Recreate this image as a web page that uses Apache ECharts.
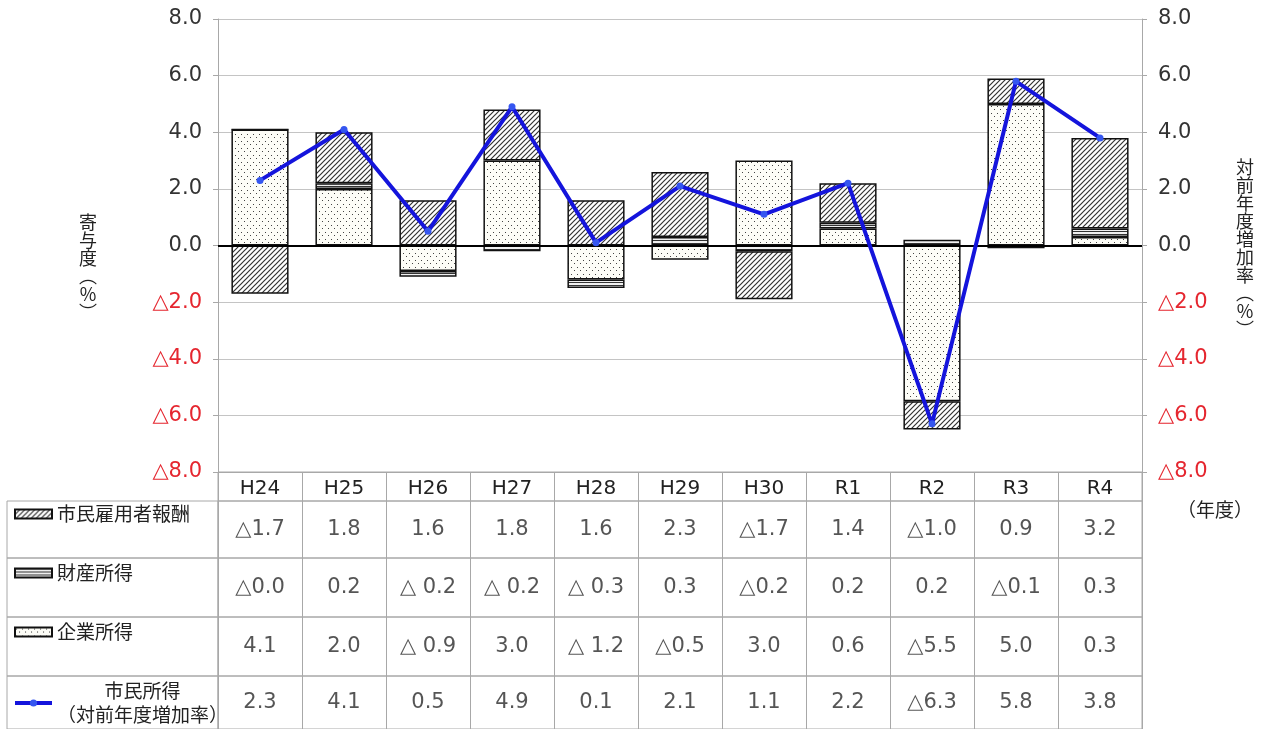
<!DOCTYPE html>
<html>
<head>
<meta charset="utf-8">
<script src="https://cdn.jsdelivr.net/npm/echarts@6/dist/echarts.min.js"></script>
<style>
html, body { margin: 0; padding: 0; background: #fff; }
#main { width: 1263px; height: 729px; }
</style>
</head>
<body>
<div id="main"></div>
<script>
// data, as printed in the table under the chart
var years = ['H24', 'H25', 'H26', 'H27', 'H28', 'H29', 'H30', 'R1', 'R2', 'R3', 'R4'];
var koyouText = ['△1.7', '1.8', '1.6', '1.8', '1.6', '2.3', '△1.7', '1.4', '△1.0', '0.9', '3.2'];
var zaisanText = ['△0.0', '0.2', '△ 0.2', '△ 0.2', '△ 0.3', '0.3', '△0.2', '0.2', '0.2', '△0.1', '0.3'];
var kigyouText = ['4.1', '2.0', '△ 0.9', '3.0', '△ 1.2', '△0.5', '3.0', '0.6', '△5.5', '5.0', '0.3'];
var shiminText = ['2.3', '4.1', '0.5', '4.9', '0.1', '2.1', '1.1', '2.2', '△6.3', '5.8', '3.8'];
var legendNames = ['市民雇用者報酬', '財産所得', '企業所得', '市民所得'];

function toNum(s) {
    return parseFloat(s.replace('△', '-').replace(/\s/g, ''));
}
var koyou = koyouText.map(toNum);
var zaisan = zaisanText.map(toNum);
var kigyou = kigyouText.map(toNum);
var shimin = shiminText.map(toNum);

var fontNum = 'DejaVu Sans, Noto Sans CJK JP, sans-serif';
var fontJp = 'Noto Sans CJK JP, sans-serif';
var gray = '#a8a8a8';
var lineBlue = '#1414dc';

// fill patterns for the bars
function pattern(w, h, draw) {
    var c = document.createElement('canvas');
    c.width = w; c.height = h;
    var ctx = c.getContext('2d');
    ctx.fillStyle = '#fff';
    ctx.fillRect(0, 0, w, h);
    draw(ctx);
    return { image: c, repeat: 'repeat' };
}
var hatch = pattern(5, 5, function (ctx) {
    ctx.strokeStyle = '#333';
    ctx.lineWidth = 1.2;
    ctx.beginPath();
    ctx.moveTo(-1, 6); ctx.lineTo(6, -1);
    ctx.moveTo(-1, 1); ctx.lineTo(1, -1);
    ctx.moveTo(4, 6); ctx.lineTo(6, 4);
    ctx.stroke();
});
var stripes = pattern(3, 3, function (ctx) {
    ctx.fillStyle = '#f0f0f0';
    ctx.fillRect(0, 0, 3, 3);
    ctx.fillStyle = '#333';
    ctx.fillRect(0, 0, 3, 1);
});
var dots = pattern(6, 7, function (ctx) {
    ctx.fillStyle = '#fdfdf7';
    ctx.fillRect(0, 0, 6, 7);
    ctx.fillStyle = '#444';
    ctx.fillRect(1, 1, 1, 1);
    ctx.fillRect(4, 4, 1, 1);
});

function tickLabel(v) {
    if (v < 0) return '{n|△' + (-v).toFixed(1) + '}';
    return '{p|' + v.toFixed(1) + '}';
}
var tickRich = {
    p: { color: '#333', fontSize: 21, fontFamily: fontNum },
    n: { color: '#e5262f', fontSize: 21, fontFamily: fontNum }
};

// table layout (rows under the chart)
var rowTexts = [koyouText, zaisanText, kigyouText, shiminText];
var rowTops = [501, 558, 617, 676];
var rowHeights = [57, 59, 59, 60];

var grids = [
    { left: 218, right: 121, top: 19, height: 453 },
    { left: 218, right: 121, top: 472, height: 29, show: true, borderColor: gray, borderWidth: 1 }
];
var xAxes = [
    {
        type: 'category', gridIndex: 0, data: years,
        axisLine: { onZero: false, lineStyle: { color: gray } },
        axisTick: { show: false },
        axisLabel: { margin: 7, fontSize: 20, color: '#222', fontFamily: fontNum }
    },
    {
        type: 'category', gridIndex: 1, data: years,
        axisLine: { show: false }, axisTick: { show: false }, axisLabel: { show: false },
        splitLine: { show: true, interval: 0, lineStyle: { color: gray } }
    }
];
var yAxes = [
    {
        type: 'value', gridIndex: 0, min: -8, max: 8, interval: 2, position: 'left',
        axisLine: { show: true, lineStyle: { color: gray } },
        axisTick: { show: true, length: 5, lineStyle: { color: gray } },
        splitLine: { show: true, lineStyle: { color: '#c4c4c4' } },
        axisLabel: { margin: 16, formatter: tickLabel, rich: tickRich }
    },
    {
        type: 'value', gridIndex: 0, min: -8, max: 8, interval: 2, position: 'right',
        axisLine: { show: true, lineStyle: { color: gray } },
        axisTick: { show: true, length: 5, lineStyle: { color: gray } },
        splitLine: { show: false },
        axisLabel: { margin: 16, formatter: tickLabel, rich: tickRich }
    },
    { type: 'value', gridIndex: 1, min: -1, max: 1, show: false }
];

var barBorder = { borderColor: '#111', borderWidth: 1.5 };
var series = [
    {
        name: '企業所得', type: 'bar', stack: 'total', data: kigyou, barCategoryGap: '32%',
        itemStyle: Object.assign({ color: dots }, barBorder)
    },
    {
        name: '財産所得', type: 'bar', stack: 'total', data: zaisan,
        itemStyle: Object.assign({ color: stripes }, barBorder)
    },
    {
        name: '市民雇用者報酬', type: 'bar', stack: 'total', data: koyou,
        itemStyle: Object.assign({ color: hatch }, barBorder),
        markLine: {
            silent: true, symbol: 'none', label: { show: false },
            lineStyle: { color: '#000', width: 2, type: 'solid' },
            data: [{ yAxis: 0 }]
        }
    },
    {
        name: '市民所得', type: 'line', yAxisIndex: 1, data: shimin, z: 5,
        symbol: 'circle', symbolSize: 7,
        lineStyle: { color: lineBlue, width: 4 },
        itemStyle: { color: '#3556f0' }
    }
];

rowTexts.forEach(function (texts, r) {
    // value cells
    var gi = grids.length;
    var xi = xAxes.length;
    var yi = yAxes.length;
    grids.push({ left: 218, right: 121, top: rowTops[r], height: rowHeights[r], show: true, borderColor: gray, borderWidth: 1 });
    xAxes.push({
        type: 'category', gridIndex: gi, data: years,
        axisLine: { show: false }, axisTick: { show: false }, axisLabel: { show: false },
        splitLine: { show: true, interval: 0, lineStyle: { color: gray } }
    });
    yAxes.push({ type: 'value', gridIndex: gi, min: -1, max: 1, show: false });
    series.push({
        type: 'scatter', xAxisIndex: xi, yAxisIndex: yi, silent: true,
        symbolSize: 1, itemStyle: { color: 'rgba(0,0,0,0)' },
        data: texts.map(function (t, i) { return [i, 0]; }),
        label: {
            show: true, position: 'inside', color: '#2a2a2a', fontSize: 21, fontFamily: fontNum,
            formatter: function (p) { return texts[p.dataIndex]; }
        }
    });
    // legend cell on the left
    var li = grids.length;
    grids.push({ left: 7, width: 211, top: rowTops[r], height: rowHeights[r], show: true, borderColor: gray, borderWidth: 1 });
    xAxes.push({ type: 'value', gridIndex: li, show: false, splitLine: { show: false } });
    yAxes.push({ type: 'value', gridIndex: li, show: false, splitLine: { show: false } });
});

var option = {
    animation: false,
    backgroundColor: '#fff',
    grid: grids,
    xAxis: xAxes,
    yAxis: yAxes,
    legend: {
        data: legendNames.map(function (n) {
            if (n === '市民所得') return { name: n, lineStyle: { width: 4, color: lineBlue } };
            return { name: n, icon: 'rect' };
        }),
        orient: 'vertical', left: 13, top: 502, height: 300, padding: 0,
        itemWidth: 37, itemHeight: 9, itemGap: 35,
        textStyle: {
            fontSize: 19, lineHeight: 24, color: '#222', fontFamily: fontJp,
            rich: { c: { fontSize: 19, lineHeight: 24, color: '#222', fontFamily: fontJp, align: 'center' } }
        },
        formatter: function (name) {
            if (name === '市民所得') return '{c|市民所得}\n{c|（対前年度増加率）}';
            return name;
        }
    },
    graphic: [
        {
            type: 'text', x: 88, y: 213,
            style: { text: '寄\n与\n度\n︵\n%\n︶', align: 'center', verticalAlign: 'top', fontSize: 18, lineHeight: 18, fill: '#222', fontFamily: fontJp }
        },
        {
            type: 'text', x: 1245, y: 158,
            style: { text: '対\n前\n年\n度\n増\n加\n率\n︵\n%\n︶', align: 'center', verticalAlign: 'top', fontSize: 18, lineHeight: 18, fill: '#222', fontFamily: fontJp }
        },
        { type: 'text', left: 1177, top: 500, style: { text: '（年度）', fontSize: 19, fill: '#222', fontFamily: fontJp } }
    ],
    series: series
};

var myChart = echarts.init(document.getElementById('main'));
myChart.setOption(option);
</script>
</body>
</html>
